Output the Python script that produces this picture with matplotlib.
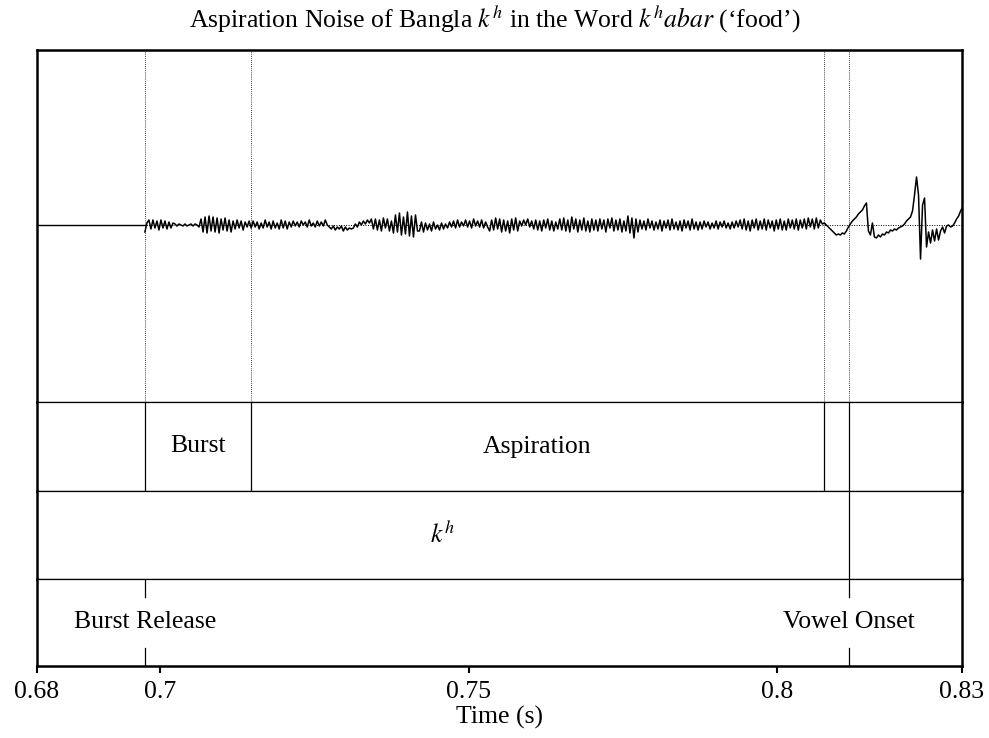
import numpy as np
import matplotlib
matplotlib.use("Agg")
import matplotlib.pyplot as plt

plt.rcParams['font.family'] = ['Liberation Serif', 'DejaVu Serif']
plt.rcParams['mathtext.fontset'] = 'stix'

# time axis and annotation boundaries (s)
t_start, t_end = 0.68, 0.83
burst_release = 0.6975
burst_end = 0.7147
aspiration_end = 0.8076
vowel_onset = 0.8117

# waveform: sampled from the burst release on, one value per sample
sample_step = 0.000325
wave = [
    # burst
    -7, 2, 5, -4, 5, -3, 4, -5, 5, -3, 4, -4, 3, -3, 2,
    1, -1, 1, 0, -1, 1, -1, 0, 1, -1, 1, 0,
    -2, 6, -7, 8, -8, 9, -6, 8, -7, 7, -8, 6, -5, 7, -6, 5, -7, 4,
    -4, 5, -3, 4, -5, 3, -2, 4,
    # aspiration
    -3, 4, -2, 3, -4, 2, -3, 5, -2, 3, -4, 4, -3, 2, -4, 5, -3, 4, -4,
    3, -2, 4, -1, 3, -2, 4, 0, 3, -2, 5, -1, 2, -2, 4, -1, 3, -1, 5, 0,
    -2, -4, -1, -5, -2, -4, -1, -6, -2, -5, -3, -4,
    -3, 1, -2, 3, 0, 4, 1, 5, 2, 6,
    -4, 6, -5, 5, -6, 7, -3, 6, -6, 4,
    -8, 10, -7, 12, -10, 8, -9, 13, -11, 9, -12, 10, -6,
    -6, 3, -7, 2, -5, 1, -6, 3, -4, 0, -5, 2, -4, 1, -3,
    3, -2, 4, -3, 5, -2, 3, -1, 5, -2, 4, -3, 6, -1, 4, -2, 5, -3, 3, -2,
    -6, 5, -5, 7, -4, 6, -7, 5, -6, 4, -8, 6, -5, 7, -6,
    4, -1, 5, 0, 6, -2, 4,
    -4, 5, -5, 4, -6, 5, -3, 6, -5, 4, -6, 3, -4,
    6, -5, 7, -6, 5, -7, 8, -4, 6, -7, 5, -5, 7, -6, 4, -7, 6, -5, 5, -6,
    6, -4, 5, -7, 6, -3, 7, -6, 5, -5, 6, -7, 4,
    -6, 9, -8, 7, -13, 6, -7,
    5, -4, 4, -5, 6, -3, 4, -5, 3, -4, 5, -6, 4, -3, 5, -5, 6, -4, 3, -5,
    4, -6, 5, -3, 4, -5, 6, -4, 3, -5,
    3, -4, 4, -2, 3, -4, 2, -3, 4, -4, 3, -2, 4, -3, 2, -4, 3, -3, 4, -2,
    5, -4, 6, -5, 4, -6, 5, -3, 6, -5, 4, -4, 6, -5, 5, -3, 4, -6, 5, -4,
    6, -5, 4, -5, 6, -3, 5, -4, 6, -5,
    5, -3, 6, -4, 7, -2, 6, -4, 7, -3, 5, 1,
    # transition into the vowel
    2, 0, -2, -4, -6, -8, -10, -9, -10, -8, -9, -6, -2, 1, 4, 6, 8, 11,
    13, 15, 19, 22, -6, -10, 2, -12, -13, -10, -12, -9, -10, -7, -8, -5,
    -6, -4, -5, -3, -2, -1, 1, 4, 6, 8, 14, 30, 48, 30, -34, 20, 27, -22,
    -7, -18, -5, -16, -4, -15, -6, -2, -8, -1, 0, -2, -1, 2, 6, 9, 14, 18,
]

tier1_bounds = [t_start, burst_release, burst_end, aspiration_end, vowel_onset, t_end]
tier1_labels = ["", "Burst", "Aspiration", "", ""]
tier2_bounds = [t_start, vowel_onset, t_end]
tier2_labels = [r"$k^h$", ""]
tier3_points = [burst_release, vowel_onset]
tier3_labels = ["Burst Release", "Vowel Onset"]

tick_values = [0.68, 0.7, 0.75, 0.8, 0.83]
tick_labels = ["0.68", "0.7", "0.75", "0.8", "0.83"]

W, H = 989, 738
fig = plt.figure(figsize=(W / 100, H / 100), dpi=100)

left, right = 37, 962
rows = [(50, 402), (402, 491), (491, 579), (579, 666)]
axes = []
for top, bot in rows:
    ax = fig.add_axes([left / W, 1 - bot / H, (right - left) / W, (bot - top) / H])
    ax.set_xlim(t_start, t_end)
    ax.set_xticks([])
    ax.set_yticks([])
    for s in ax.spines.values():
        s.set_linewidth(0.9)
    ax.spines['left'].set_linewidth(1.8)
    ax.spines['right'].set_linewidth(1.8)
    axes.append(ax)
ax_w, ax1, ax2, ax3 = axes
ax_w.spines['top'].set_linewidth(1.8)
ax3.spines['bottom'].set_linewidth(1.8)

fs = 18.5

# waveform panel
t_wave = burst_release + sample_step * np.arange(len(wave))
ax_w.plot([t_start, burst_release], [0, 0], color='black', lw=1.0)
ax_w.plot(t_wave, wave, color='black', lw=1.1)
ax_w.axhline(0, color='black', lw=0.7, ls=(0, (1, 1.5)))
for t in tier1_bounds[1:-1]:
    ax_w.axvline(t, color='black', lw=0.6, ls=(0, (1, 1.5)))
ax_w.set_ylim(-177, 175)

# interval tiers
for ax, bounds, labels in [(ax1, tier1_bounds, tier1_labels), (ax2, tier2_bounds, tier2_labels)]:
    ax.set_ylim(0, 1)
    for t in bounds[1:-1]:
        ax.axvline(t, color='black', lw=0.9)
    for a, b, lab in zip(bounds[:-1], bounds[1:], labels):
        if lab:
            ax.text((a + b) / 2, 0.5, lab, ha='center', va='center', fontsize=fs)

# point tier
ax3.set_ylim(0, 1)
for t, lab in zip(tier3_points, tier3_labels):
    ax3.plot([t, t], [0.79, 1], color='black', lw=0.9)
    ax3.plot([t, t], [0, 0.21], color='black', lw=0.9)
    ax3.text(t, 0.5, lab, ha='center', va='center', fontsize=fs)

# time axis
ax3.set_xticks(tick_values)
ax3.set_xticklabels(tick_labels, fontsize=fs)
ax3.tick_params(axis='x', direction='out', length=5, width=1.5, pad=6)
ax3.set_xlabel("Time (s)", fontsize=fs, labelpad=2)

fig.text(0.5, 1 - 19 / H, r"Aspiration Noise of Bangla $k^h$ in the Word $k^habar$ (‘food’)",
         ha='center', va='center', fontsize=fs)

fig.savefig("out.png", dpi=100)
